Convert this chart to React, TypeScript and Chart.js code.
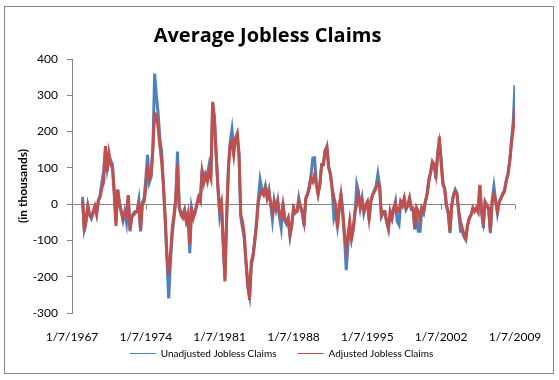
import React, { useEffect, useRef } from 'react';
import { Chart, registerables } from 'chart.js';

Chart.register(...registerables);

// Sampling of the weekly series: one reading every two months, starting Jan 1968
const startYear = 1968;
const pointsPerYear = 6;

// Category-axis labels (every 7 years)
const tickYears = [1967, 1974, 1981, 1988, 1995, 2002, 2009];
const tickPrefix = '1/7/';

const yMin = -300;
const yMax = 400;
const yStep = 100;

const seriesNames = ['Unadjusted Jobless Claims', 'Adjusted Jobless Claims'];
const chartTitle = 'Average Jobless Claims';
const yTitle = '(in thousands)';

// year-over-year change, thousands
const unadjusted = [
  20, -70, -50, -5, -30, -40, // 1968
  -25, -10, -30, 10, 25, 60, // 1969
  90, 150, 100, 135, 120, 110, // 1970
  40, -50, 40, 5, -20, -45, // 1971
  -20, -50, 20, -75, -35, -25, // 1972
  -20, -20, 10, -75, 5, 15, // 1973
  72, 136, 60, 75, 150, 360, // 1974
  300, 250, 180, 145, 55, -48, // 1975
  -150, -260, -160, -84, -40, 7, // 1976
  145, -10, -20, -30, -15, -45, // 1977
  -25, -135, -10, -35, -25, 0, // 1978
  20, 10, 95, 60, 85, 80, // 1979
  108, 75, 275, 235, 140, 45, // 1980
  -30, 5, -110, -205, -40, 105, // 1981
  170, 205, 150, 175, 190, 140, // 1982
  -35, -66, -95, -165, -230, -255, // 1983
  -170, -145, -95, -45, 15, 67, // 1984
  40, 30, 50, 20, 40, 0, // 1985
  -43, 10, -15, 10, -35, -66, // 1986
  5, -45, -55, -40, -89, -60, // 1987
  -15, -25, -20, 17, -10, -25, // 1988
  -61, 15, 30, 50, 80, 127, // 1989
  128, 60, 30, 55, 110, 112, // 1990
  150, 155, 105, 85, 40, -38, // 1991
  -20, -60, -15, 30, -25, -90, // 1992
  -182, -110, -55, -95, -70, -25, // 1993
  53, 30, -10, 17, -25, -5, // 1994
  5, -45, 10, 25, 38, 50, // 1995
  83, 50, -35, -25, -25, -50, // 1996
  -70, -25, -40, -15, 7, -48, // 1997
  -57, 5, -5, 15, -15, -5, // 1998
  15, -15, -15, -70, -15, -75, // 1999
  -75, -15, -25, 5, 30, 70, // 2000
  85, 115, 110, 70, 140, 170, // 2001
  127, 60, 40, -5, -25, -80, // 2002
  -5, 25, 40, 30, -25, -75, // 2003
  -75, -90, -98, -60, -40, -30, // 2004
  -15, -15, -12, -22, 50, -25, // 2005
  -66, 5, -5, -15, -80, 10, // 2006
  49, 10, -25, 5, 15, 30, // 2007
  38, 65, 85, 120, 175, 228, // 2008
  328, // 2009
];

const adjusted = [
  10, -75, -40, -5, -30, -35, // 1968
  -20, -5, -25, 10, 20, 45, // 1969
  60, 160, 90, 140, 110, 100, // 1970
  30, -60, 40, 0, -20, -40, // 1971
  -25, -30, 25, -70, -35, -30, // 1972
  -25, -20, 0, -70, 0, 7, // 1973
  44, 95, 72, 80, 154, 250, // 1974
  246, 210, 160, 117, 50, -30, // 1975
  -140, -195, -140, -66, -30, 16, // 1976
  108, -10, -30, -38, -20, -48, // 1977
  -30, -110, -20, -38, -20, -2, // 1978
  17, 7, 90, 62, 80, 62, // 1979
  90, 72, 282, 240, 136, 50, // 1980
  -10, 7, -103, -213, -30, 100, // 1981
  163, 172, 136, 182, 195, 136, // 1982
  -30, -48, -84, -158, -215, -264, // 1983
  -158, -140, -103, -57, 7, 26, // 1984
  35, 26, 44, 17, 35, 0, // 1985
  -20, 7, -10, 7, -30, -38, // 1986
  -2, -38, -48, -38, -84, -57, // 1987
  -10, -20, -20, 7, -6, -20, // 1988
  -48, 17, 26, 44, 72, 62, // 1989
  81, 53, 26, 53, 108, 108, // 1990
  145, 159, 100, 81, 44, 17, // 1991
  -2, -66, -10, 26, -20, -84, // 1992
  -121, -84, -48, -94, -66, -20, // 1993
  -2, 26, -10, 7, -20, -2, // 1994
  7, -38, 7, 26, 35, 44, // 1995
  58, 49, -30, -20, -20, -48, // 1996
  -66, -20, -38, -10, 3, -20, // 1997
  -20, 7, -2, 17, -10, -2, // 1998
  17, -10, -10, -66, -10, -20, // 1999
  -38, -10, -20, 7, 26, 62, // 2000
  90, 117, 108, 81, 136, 186, // 2001
  108, 53, 44, -2, -20, -75, // 2002
  -2, 26, 35, 26, -20, -48, // 2003
  -66, -84, -94, -57, -38, -30, // 2004
  -10, -20, -10, -20, 53, -20, // 2005
  -48, 7, -2, -10, -75, 7, // 2006
  26, 7, -20, 7, 17, 26, // 2007
  35, 62, 81, 117, 168, 209, // 2008
  262, // 2009
];

const BLUE = '#4F81BD';
const RED = '#C0504D';
const AXIS = '#868686';
const FONT = 'Lato';

function toPoints(values: number[]) {
  return values.map((v, i) => ({ x: startYear + i / pointsPerYear, y: v }));
}

export default function App() {
  const canvasRef = useRef<HTMLCanvasElement | null>(null);

  useEffect(() => {
    const canvas = canvasRef.current;
    if (!canvas) return;

    const zeroLinePlugin = {
      id: 'zeroLine',
      beforeDatasetsDraw(chart: any) {
        const { ctx, chartArea, scales } = chart;
        const y0 = Math.round(scales.y.getPixelForValue(0)) + 0.5;
        ctx.save();
        ctx.strokeStyle = AXIS;
        ctx.lineWidth = 1;
        ctx.beginPath();
        ctx.moveTo(chartArea.left, y0);
        ctx.lineTo(chartArea.right, y0);
        tickYears.forEach((t) => {
          const x = Math.round(scales.x.getPixelForValue(t)) + 0.5;
          ctx.moveTo(x, y0);
          ctx.lineTo(x, y0 + 5);
        });
        ctx.stroke();
        ctx.restore();
      },
    };

    const shiftPlugin = {
      id: 'shiftBoxes',
      afterLayout(chart: any) {
        if (chart.legend) {
          chart.legend.left += 24;
          chart.legend.right += 24;
          chart.legend.top -= 16.5;
          chart.legend.bottom -= 16.5;
        }
        if (chart.titleBlock) {
          chart.titleBlock.left += 10;
          chart.titleBlock.right += 10;
        }
      },
    };

    const chart = new Chart(canvas, {
      type: 'line',
      data: {
        datasets: [
          {
            label: seriesNames[0],
            data: toPoints(unadjusted),
            borderColor: BLUE,
            backgroundColor: BLUE,
            borderWidth: 3,
            pointRadius: 0,
            tension: 0,
            order: 2,
          },
          {
            label: seriesNames[1],
            data: toPoints(adjusted),
            borderColor: RED,
            backgroundColor: RED,
            borderWidth: 3,
            pointRadius: 0,
            tension: 0,
            order: 1,
          },
        ],
      },
      options: {
        animation: false,
        responsive: false,
        maintainAspectRatio: false,
        layout: { padding: { left: 0, right: 44, top: 0, bottom: -5 } },
        plugins: {
          title: {
            display: true,
            text: chartTitle,
            color: '#000',
            font: { family: 'Open Sans', size: 20, weight: 'bold' },
            padding: { top: 24.5, bottom: 10.5 },
          },
          legend: {
            position: 'bottom',
            labels: {
              color: '#000',
              font: { family: FONT, size: 10 },
              usePointStyle: true,
              pointStyle: 'line',
              pointStyleWidth: 26,
              boxHeight: 10,
              padding: 21,
              generateLabels: (ch: any) =>
                ch.data.datasets.map((ds: any, i: number) => ({
                  text: ds.label,
                  fillStyle: ds.borderColor,
                  strokeStyle: ds.borderColor,
                  lineWidth: 1,
                  pointStyle: 'line',
                  hidden: false,
                  datasetIndex: i,
                  fontColor: '#000',
                })),
            },
          },
          tooltip: { enabled: false },
        },
        scales: {
          x: {
            type: 'linear',
            min: 1967,
            max: 2009,
            afterBuildTicks: (s: any) => {
              s.ticks = tickYears.map((v) => ({ value: v }));
            },
            afterFit: (s: any) => {
              s.height = 31;
            },
            ticks: {
              autoSkip: false,
              maxRotation: 0,
              minRotation: 0,
              padding: 17,
              color: '#000',
              font: { family: FONT, size: 12 },
              callback: (v: any) => tickPrefix + v,
            },
            grid: { display: false, drawTicks: false },
            border: { display: false },
          },
          y: {
            min: yMin,
            max: yMax,
            afterFit: (s: any) => {
              s.width = 72;
            },
            ticks: {
              stepSize: yStep,
              padding: 9,
              color: '#000',
              font: { family: FONT, size: 12 },
            },
            grid: {
              drawOnChartArea: false,
              drawTicks: true,
              tickLength: 5,
              color: AXIS,
            },
            border: { display: true, color: AXIS, width: 1 },
            title: {
              display: true,
              text: yTitle,
              color: '#000',
              font: { family: FONT, size: 12, weight: 'bold' },
              padding: { top: 16, bottom: 0 },
            },
          },
        },
      },
      plugins: [zeroLinePlugin, shiftPlugin],
    } as any);

    return () => chart.destroy();
  }, []);

  return (
    <div
      style={{
        position: 'fixed',
        left: 0,
        top: 0,
        width: 559,
        height: 380,
        background: '#fff',
      }}
    >
      <canvas
        ref={canvasRef}
        width={559}
        height={380}
        style={{ position: 'absolute', left: 0, top: 0, width: 559, height: 380, display: 'block' }}
      />
      <div
        style={{
          position: 'absolute',
          left: 4,
          top: 6,
          width: 550,
          height: 368,
          boxSizing: 'border-box',
          border: `1px solid ${AXIS}`,
          pointerEvents: 'none',
        }}
      />
    </div>
  );
}
